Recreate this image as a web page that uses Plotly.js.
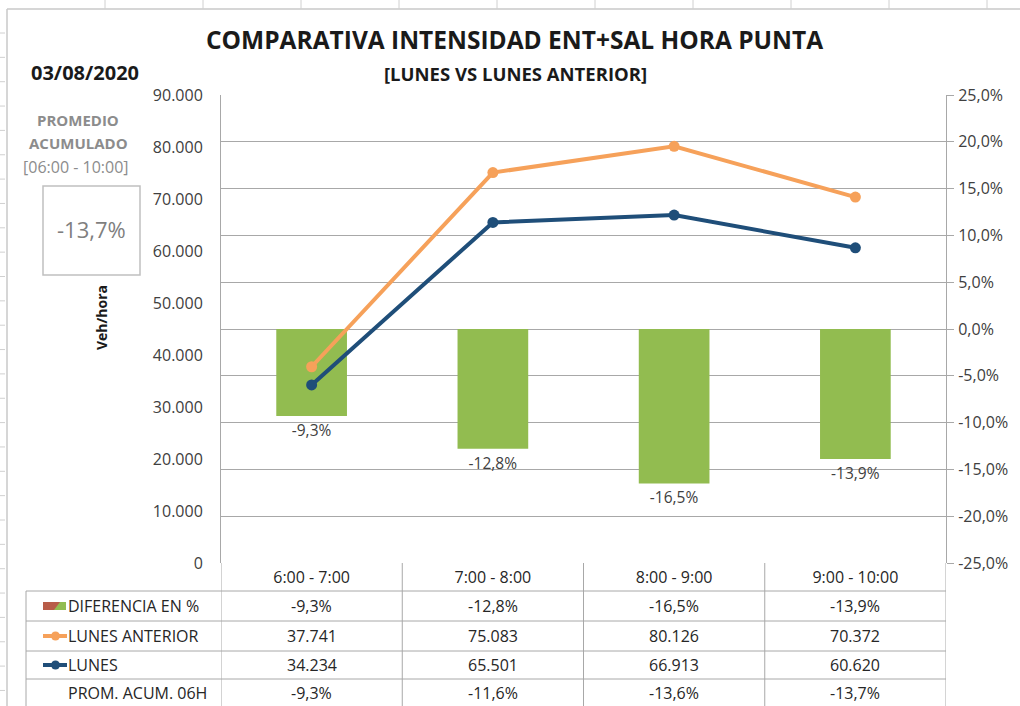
<!DOCTYPE html>
<html>
<head>
<meta charset="utf-8">
<script src="https://cdn.plot.ly/plotly-3.0.1.min.js"></script>
<style>html,body{margin:0;padding:0;background:#fff;}#chart{width:1020px;height:706px;}</style>
</head>
<body>
<div id="chart"></div>
<script>
// ---- data ----
const categories = ['6:00 - 7:00', '7:00 - 8:00', '8:00 - 9:00', '9:00 - 10:00'];
const diferencia = [-0.093, -0.128, -0.165, -0.139];
const lunesAnterior = [37741, 75083, 80126, 70372];
const lunes = [34234, 65501, 66913, 60620];
const promAcum = [-0.093, -0.116, -0.136, -0.137];
const leftTicks = [0, 10000, 20000, 30000, 40000, 50000, 60000, 70000, 80000, 90000];
const rightTicks = [-0.25, -0.20, -0.15, -0.10, -0.05, 0, 0.05, 0.10, 0.15, 0.20, 0.25];
const rowLabels = ['DIFERENCIA EN %', 'LUNES ANTERIOR', 'LUNES', 'PROM. ACUM. 06H'];
const titleText = 'COMPARATIVA INTENSIDAD ENT+SAL HORA PUNTA';
const subtitleText = '[LUNES VS LUNES ANTERIOR]';
const dateText = '03/08/2020';
const promLabel = ['PROMEDIO', 'ACUMULADO', '[06:00 - 10:00]'];
const yTitle = 'Veh/hora';

// ---- helpers ----
const W = 1020, H = 706, L = 221, R = 946, T = 95, B = 563;
const px = x => (x - L) / (R - L);
const py = y => (B - y) / (B - T);
const fmtInt = v => String(Math.round(v)).replace(/\B(?=(\d{3})+(?!\d))/g, '.');
const fmtPct = v => (v * 100).toFixed(1).replace('.', ',') + '%';

const FONT = '"Open Sans", sans-serif';
const ORANGE = '#F6A15A', NAVY = '#1F4E79', GREEN = '#92BC50', GRID = '#A8A8A8', TXT = '#404040';

const traces = [
  {
    type: 'bar', x: categories, y: diferencia, yaxis: 'y', width: 0.39,
    marker: {color: GREEN}, text: diferencia.map(fmtPct), textposition: 'outside',
    textfont: {family: FONT, size: 15.5, color: TXT}, cliponaxis: false, hoverinfo: 'skip'
  },
  {
    type: 'scatter', mode: 'lines+markers', x: categories, y: lunesAnterior, yaxis: 'y2',
    line: {color: ORANGE, width: 4}, marker: {color: ORANGE, size: 11}, hoverinfo: 'skip'
  },
  {
    type: 'scatter', mode: 'lines+markers', x: categories, y: lunes, yaxis: 'y2',
    line: {color: NAVY, width: 4}, marker: {color: NAVY, size: 11}, hoverinfo: 'skip'
  }
];

const shapes = [];
const annotations = [];
const line = (x0, y0, x1, y1, color, width) => shapes.push({type: 'line', xref: 'paper', yref: 'paper',
  x0: px(x0), y0: py(y0), x1: px(x1), y1: py(y1), line: {color: color || GRID, width: width || 1}, layer: 'above'});

// sheet decoration (Excel border)
line(7, 9, 1020, 9, '#C8C8C8', 1.5);
line(7, 9, 7, 706, '#C8C8C8', 1.5);
for (let x = 105; x < 1020; x += 98) line(x, 0, x, 9, '#D0D0D0', 1);
for (let y = 33; y < 706; y += 24.35) line(0, y, 5, y, '#D0D0D0', 1);

// data table grid
const rowY = [563, 591, 621, 651, 679, 706];
for (let i = 1; i < rowY.length - 1; i++) line(26, rowY[i], R, rowY[i], GRID);
line(26, rowY[1], 26, 706, GRID);
for (let i = 0; i <= categories.length; i++) {
  shapes.push({type: 'line', xref: 'x', yref: 'paper', x0: i - 0.5, x1: i - 0.5,
    y0: py(563), y1: py(706), line: {color: GRID, width: 1}, layer: 'above'});
}

// legend keys
const keyY = [606, 636, 665];
shapes.push({type: 'path', xref: 'paper', yref: 'paper',
  path: `M ${px(43)} ${py(602)} L ${px(66)} ${py(602)} L ${px(66)} ${py(610)} L ${px(43)} ${py(610)} Z`,
  fillcolor: GREEN, line: {width: 0}});
shapes.push({type: 'path', xref: 'paper', yref: 'paper',
  path: `M ${px(43)} ${py(602)} L ${px(60)} ${py(602)} L ${px(54)} ${py(610)} L ${px(43)} ${py(610)} Z`,
  fillcolor: '#B85C48', line: {width: 0}});
line(43, keyY[1], 67, keyY[1], ORANGE, 4);
line(43, keyY[2], 67, keyY[2], NAVY, 4);
shapes.push({type: 'circle', xref: 'paper', yref: 'paper', x0: px(51), x1: px(60), y0: py(keyY[1] + 4.5), y1: py(keyY[1] - 4.5),
  fillcolor: ORANGE, line: {width: 0}});
shapes.push({type: 'circle', xref: 'paper', yref: 'paper', x0: px(51), x1: px(60), y0: py(keyY[2] + 4.5), y1: py(keyY[2] - 4.5),
  fillcolor: NAVY, line: {width: 0}});

// table text
const rowCenters = [606, 636, 665, 693];
const rowValues = [diferencia.map(fmtPct), lunesAnterior.map(fmtInt), lunes.map(fmtInt), promAcum.map(fmtPct)];
rowLabels.forEach((lab, r) => {
  annotations.push({xref: 'paper', yref: 'paper', x: px(r === 3 ? 66 : 66), y: py(rowCenters[r]), xanchor: 'left', yanchor: 'middle',
    text: lab, showarrow: false, font: {family: FONT, size: 16, color: '#262626'}});
  categories.forEach((c, i) => {
    annotations.push({xref: 'x', yref: 'paper', x: c, y: py(rowCenters[r]), xanchor: 'center', yanchor: 'middle',
      text: rowValues[r][i], showarrow: false, font: {family: FONT, size: 16, color: '#262626'}});
  });
});

// titles and side panel
annotations.push({xref: 'paper', yref: 'paper', x: px(514), y: py(40), text: '<b>' + titleText + '</b>', showarrow: false,
  font: {family: FONT, size: 24.5, color: '#1a1a1a'}, xanchor: 'center', yanchor: 'middle'});
annotations.push({xref: 'paper', yref: 'paper', x: px(515), y: py(74), text: '<b>' + subtitleText + '</b>', showarrow: false,
  font: {family: FONT, size: 18.5, color: '#1a1a1a'}, xanchor: 'center', yanchor: 'middle'});
annotations.push({xref: 'paper', yref: 'paper', x: px(85), y: py(73), text: '<b>' + dateText + '</b>', showarrow: false,
  font: {family: FONT, size: 20, color: '#1a1a1a'}, xanchor: 'center', yanchor: 'middle'});
annotations.push({xref: 'paper', yref: 'paper', x: px(78), y: py(120), text: '<b>' + promLabel[0] + '</b>', showarrow: false,
  font: {family: FONT, size: 15, color: '#8C8C8C'}, xanchor: 'center', yanchor: 'middle'});
annotations.push({xref: 'paper', yref: 'paper', x: px(78), y: py(143), text: '<b>' + promLabel[1] + '</b>', showarrow: false,
  font: {family: FONT, size: 15, color: '#8C8C8C'}, xanchor: 'center', yanchor: 'middle'});
annotations.push({xref: 'paper', yref: 'paper', x: px(76), y: py(167), text: promLabel[2], showarrow: false,
  font: {family: FONT, size: 16, color: '#8C8C8C'}, xanchor: 'center', yanchor: 'middle'});
shapes.push({type: 'rect', xref: 'paper', yref: 'paper', x0: px(43), x1: px(140), y0: py(186), y1: py(275),
  fillcolor: 'rgba(0,0,0,0)', line: {color: '#C0C0C0', width: 1.5}});
annotations.push({xref: 'paper', yref: 'paper', x: px(91), y: py(229), text: fmtPct(promAcum[promAcum.length - 1]), showarrow: false,
  font: {family: FONT, size: 22, color: '#7F7F7F'}, xanchor: 'center', yanchor: 'middle'});
annotations.push({xref: 'paper', yref: 'paper', x: px(101), y: py(318), text: '<b>' + yTitle + '</b>', showarrow: false, textangle: -90,
  font: {family: FONT, size: 14, color: '#1a1a1a'}, xanchor: 'center', yanchor: 'middle'});

const layout = {
  width: W, height: H,
  margin: {l: L, r: W - R, t: T, b: H - B, pad: 0},
  paper_bgcolor: '#ffffff', plot_bgcolor: '#ffffff',
  separators: ',.',
  showlegend: false,
  bargap: 0.6,
  xaxis: {
    type: 'category', categoryarray: categories, range: [-0.5, 3.5],
    showgrid: false, zeroline: false, showline: false, ticks: '',
    tickfont: {family: FONT, size: 16, color: '#262626'}, ticklabelstandoff: 3
  },
  yaxis: {
    side: 'right', range: [-0.25, 0.25], tickvals: rightTicks, ticktext: rightTicks.map(fmtPct),
    showgrid: true, gridcolor: GRID, gridwidth: 1, zeroline: false,
    showline: true, linecolor: GRID, linewidth: 1,
    ticks: 'outside', ticklen: 7, tickcolor: GRID, ticklabelstandoff: 1,
    tickfont: {family: FONT, size: 16, color: TXT}
  },
  yaxis2: {
    overlaying: 'y', side: 'left', range: [0, 90000], tickvals: leftTicks, ticktext: leftTicks.map(fmtInt),
    showgrid: false, zeroline: false, showline: true, linecolor: GRID, linewidth: 1,
    ticks: '', ticklabelstandoff: 14,
    tickfont: {family: FONT, size: 16, color: TXT}
  },
  shapes: shapes,
  annotations: annotations
};

Plotly.newPlot('chart', traces, layout, {staticPlot: true, displayModeBar: false});
</script>
</body>
</html>
